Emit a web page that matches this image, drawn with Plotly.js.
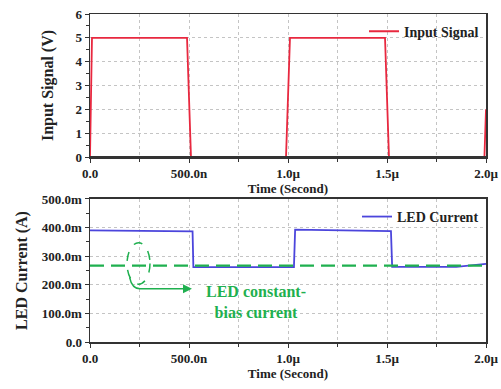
<!DOCTYPE html>
<html><head><meta charset="utf-8">
<script src="https://cdn.plot.ly/plotly-3.0.1.min.js"></script>
<style>body{margin:0;background:#fff}#c{width:501px;height:389px}</style>
</head><body><div id="c"></div>
<script>
// time in ns
const inputTime = [0, 10, 490, 510, 990, 1010, 1490, 1510, 1992, 2000];
const inputVolt = [0, 5, 5, 0, 0, 5, 5, 0, 0, 2];
const ledTime = [0, 518, 522, 1030, 1036, 1520, 1526, 1850, 2000];
const ledCurrent = [390, 387, 262, 262, 393, 388, 263, 263, 273]; // mA
const biasCurrent = 267; // mA
const xTickVals = [0, 500, 1000, 1500, 2000];
const xTickText = ['0.0', '500.0n', '1.0\u00b5', '1.5\u00b5', '2.0\u00b5'];
const y1TickVals = [0, 1, 2, 3, 4, 5, 6];
const y1TickText = ['0', '1', '2', '3', '4', '5', '6'];
const y2TickVals = [0, 100, 200, 300, 400, 500];
const y2TickText = ['0.0', '100.0m', '200.0m', '300.0m', '400.0m', '500.0m'];

const SERIF = 'Liberation Serif, Times New Roman, serif';
const RED = '#e8283f', BLUE = '#4b45dc', GREEN = '#1fb04f', FRAME = '#333';
const tickFont = {family: SERIF, size: 13, color: '#222', weight: 'bold'};

function xax(anchor) {
  return {
    range: [0, 2000], anchor: anchor, tickvals: xTickVals, ticktext: xTickText,
    tickfont: tickFont, ticks: 'outside', ticklen: 4, tickcolor: FRAME,
    showline: true, linecolor: FRAME, linewidth: 1.5, mirror: true,
    showgrid: true, gridcolor: '#c4c4c4', griddash: 'dot', zeroline: false,
    minor: {dtick: 250, tick0: 0, ticks: 'outside', ticklen: 3, tickcolor: FRAME, showgrid: true, gridcolor: '#c4c4c4', griddash: 'dot'},
    title: {text: '<b>Time (Second)</b>', font: {family: SERIF, size: 13, color: '#222'}, standoff: 1}
  };
}

const traces = [
  {x: inputTime, y: inputVolt, xaxis: 'x', yaxis: 'y', mode: 'lines', name: '<b>Input Signal</b>',
   line: {color: RED, width: 1.8}, legend: 'legend'},
  {x: ledTime, y: ledCurrent, xaxis: 'x2', yaxis: 'y2', mode: 'lines', name: '<b>LED Current</b>',
   line: {color: BLUE, width: 1.8}, legend: 'legend2'},
  {x: [0, 2000], y: [biasCurrent, biasCurrent], xaxis: 'x2', yaxis: 'y2', mode: 'lines',
   line: {color: GREEN, width: 2.2, dash: '14px,7px'}, showlegend: false, hoverinfo: 'skip'}
];

const layout = {
  width: 501, height: 389,
  margin: {l: 90, r: 15, t: 14, b: 47},
  paper_bgcolor: '#fff', plot_bgcolor: '#fff',
  xaxis: xax('y'),
  xaxis2: xax('y2'),
  yaxis: {
    domain: [0.564, 1], range: [0, 6], anchor: 'x', tickvals: y1TickVals, ticktext: y1TickText,
    tickfont: tickFont, ticks: 'outside', ticklen: 4, tickcolor: FRAME,
    showline: true, linecolor: FRAME, linewidth: 1.5, mirror: true,
    showgrid: true, gridcolor: '#c4c4c4', griddash: 'dot', zeroline: false,
    minor: {dtick: 0.5, ticks: 'outside', ticklen: 3, tickcolor: FRAME, showgrid: false},
    title: {text: '<b>Input Signal (V)</b>', font: {family: SERIF, size: 16, color: '#222'}, standoff: 18}
  },
  yaxis2: {
    domain: [0, 0.436], range: [0, 500], anchor: 'x2', tickvals: y2TickVals, ticktext: y2TickText,
    tickfont: tickFont, ticks: 'outside', ticklen: 4, tickcolor: FRAME,
    showline: true, linecolor: FRAME, linewidth: 1.5, mirror: true,
    showgrid: true, gridcolor: '#c4c4c4', griddash: 'dot', zeroline: false,
    minor: {dtick: 50, ticks: 'outside', ticklen: 3, tickcolor: FRAME, showgrid: false},
    title: {text: '<b>LED Current (A)</b>', font: {family: SERIF, size: 16, color: '#222'}, standoff: 10}
  },
  legend: {x: 0.995, xanchor: 'right', y: 0.995, yanchor: 'top', bgcolor: 'rgba(0,0,0,0)',
    font: {family: SERIF, size: 14, color: '#222'}},
  legend2: {x: 0.995, xanchor: 'right', y: 0.43, yanchor: 'top', bgcolor: 'rgba(0,0,0,0)',
    font: {family: SERIF, size: 14, color: '#222'}},
  shapes: [
    // frame redrawn above traces along the bottom of the top panel
    {type: 'line', xref: 'x domain', yref: 'y domain', x0: 0, x1: 1, y0: 0, y1: 0,
     line: {color: FRAME, width: 2}, layer: 'above'},
    {type: 'circle', xref: 'x2', yref: 'y2', x0: 187, x1: 303, y0: 202, y1: 347,
     line: {color: GREEN, width: 1.5, dash: 'dash'}},
    {type: 'path', xref: 'x2', yref: 'y2', path: 'M 200 226 Q 212 186 252 186 L 490 186',
     line: {color: GREEN, width: 1.5}}
  ],
  annotations: [
    {xref: 'x2', yref: 'y2', x: 515, y: 186, ax: 470, ay: 186, axref: 'x2', ayref: 'y2',
     showarrow: true, arrowhead: 2, arrowsize: 1.2, arrowwidth: 1.5, arrowcolor: GREEN, text: ''},
    {xref: 'x2', yref: 'y2', x: 838, y: 141, showarrow: false,
     text: '<b>LED constant-</b><br><b>bias current</b>', align: 'center',
     font: {family: SERIF, size: 16, color: GREEN}}
  ]
};

Plotly.newPlot('c', traces, layout, {displayModeBar: false, staticPlot: true});
</script></body></html>
